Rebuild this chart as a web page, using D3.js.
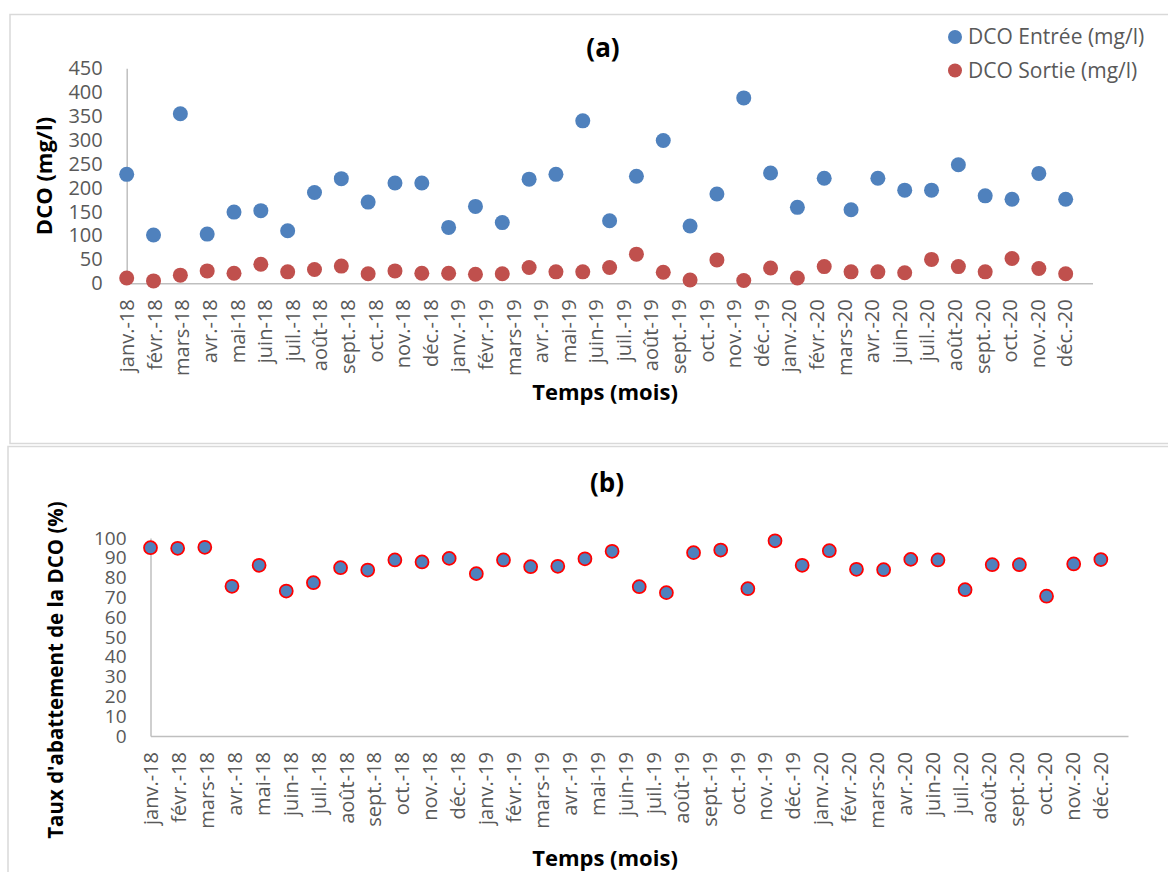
<!DOCTYPE html>
<html>
<head>
<meta charset="utf-8">
<script src="https://cdn.jsdelivr.net/npm/d3@7/dist/d3.min.js"></script>
<style>
body { margin: 0; background: #fff; }
text { font-family: "Open Sans", sans-serif; }
</style>
</head>
<body>
<div id="chart"></div>
<script>
// category labels (35) - the series have 36 values, as in the source figure
var months = ['janv.-18','févr.-18','mars-18','avr.-18','mai-18','juin-18','juil.-18','août-18','sept.-18','oct.-18','nov.-18','déc.-18',
    'janv.-19','févr.-19','mars-19','avr.-19','mai-19','juin-19','juil.-19','août-19','sept.-19','oct.-19','nov.-19','déc.-19',
    'janv.-20','févr.-20','mars-20','avr.-20','juin-20','juil.-20','août-20','sept.-20','oct.-20','nov.-20','déc.-20'];

var dcoEntree = [228, 101, 355, 103, 149, 152, 110, 190, 219, 170, 210, 210,
    117, 161, 127, 218, 228, 340, 131, 224, 299, 120, 187, 388,
    231, 159, 220, 154, 220, 195, 195, 248, 183, 176, 230, 176];

var dcoSortie = [11, 5, 17, 26, 21, 40, 24, 29, 36, 20, 26, 21,
    21, 19, 20, 33, 24, 24, 33, 61, 23, 7, 49, 6,
    32, 11, 35, 24, 24, 22, 50, 35, 24, 52, 31, 20];

var tauxAbattement = [95.1, 94.8, 95.3, 75.6, 86.2, 73.2, 77.4, 85.0, 83.8, 88.9, 87.9, 89.7,
    82.0, 88.9, 85.5, 85.7, 89.5, 93.3, 75.4, 72.4, 92.6, 93.9, 74.4, 98.6,
    86.2, 93.6, 84.2, 84.0, 89.2, 88.9, 73.9, 86.5, 86.5, 70.6, 86.9, 89.1];

var yTicksA = [0, 50, 100, 150, 200, 250, 300, 350, 400, 450];
var yTicksB = [0, 10, 20, 30, 40, 50, 60, 70, 80, 90, 100];

var W = 1168, H = 872;
var svg = d3.select('#chart').append('svg')
    .attr('width', W)
    .attr('height', H);

// panel frames
svg.append('rect')
    .attr('x', 10).attr('y', 14.5)
    .attr('width', 1180).attr('height', 429)
    .attr('fill', 'none').attr('stroke', '#d9d9d9').attr('stroke-width', 1.5);
svg.append('rect')
    .attr('x', 8).attr('y', 446.5)
    .attr('width', 1180).attr('height', 460)
    .attr('fill', 'none').attr('stroke', '#d9d9d9').attr('stroke-width', 1.5);

function drawAxes(g, x, y, yTicks, baseY, labelTop, yFont) {
    var yAxis = g.append('g')
        .attr('transform', 'translate(' + x.range()[0] + ',0)')
        .call(d3.axisLeft(y).tickValues(yTicks).tickSize(0).tickSizeOuter(0).tickPadding(24));
    yAxis.select('.domain').attr('stroke', '#bfbfbf').attr('stroke-width', 1.5);
    yAxis.selectAll('text')
        .attr('fill', '#595959')
        .style('font-size', yFont + 'px')
        .style('font-family', '"Open Sans", sans-serif');

    var xAxis = g.append('g')
        .attr('transform', 'translate(0,' + baseY + ')')
        .call(d3.axisBottom(x).tickValues(d3.range(months.length)).tickSize(0).tickSizeOuter(0)
            .tickFormat(function(i){ return months[i]; }));
    xAxis.select('.domain').attr('stroke', '#bfbfbf').attr('stroke-width', 1.5);
    xAxis.selectAll('text')
        .attr('fill', '#595959')
        .attr('text-anchor', 'end')
        .attr('transform', 'translate(0,' + labelTop + ') rotate(-90)')
        .attr('x', 0).attr('y', 0).attr('dy', '0.35em')
        .style('font-size', '20px')
        .style('font-family', '"Open Sans", sans-serif');
}

function boldText(x, y, str, size, rotate) {
    var t = svg.append('text')
        .attr('text-anchor', 'middle')
        .attr('fill', '#000')
        .attr('font-weight', 'bold')
        .style('font-size', size + 'px');
    if (rotate) {
        t.attr('transform', 'translate(' + x + ',' + y + ') rotate(-90)');
    } else {
        t.attr('x', x).attr('y', y);
    }
    t.text(str);
    return t;
}

// ---------- (a) DCO entrée / sortie ----------
var xa0 = 126.7, xa1 = 1092.5, ya0 = 283.3, ya1 = 68.3;
var xLabA = d3.scaleLinear().domain([0, months.length]).range([xa0, xa1]);
var xPtA = d3.scaleLinear().domain([0, dcoEntree.length]).range([xa0, xa1]);
var yA = d3.scaleLinear().domain([0, 450]).range([ya0, ya1]);

var gA = svg.append('g');
drawAxes(gA, xLabA, yA, yTicksA, ya0, 16, 20);

gA.selectAll('circle.entree')
    .data(dcoEntree)
    .enter()
    .append('circle')
    .attr('class', 'entree')
    .attr('cx', function(d, i){ return xPtA(i); })
    .attr('cy', function(d){ return yA(d); })
    .attr('r', 7.5)
    .attr('fill', '#4f81bd');

gA.selectAll('circle.sortie')
    .data(dcoSortie)
    .enter()
    .append('circle')
    .attr('class', 'sortie')
    .attr('cx', function(d, i){ return xPtA(i); })
    .attr('cy', function(d){ return yA(d); })
    .attr('r', 7.5)
    .attr('fill', '#c0504d');

boldText(603, 57, '(a)', 26);
boldText(605, 400, 'Temps (mois)', 22);
boldText(52, 176, 'DCO (mg/l)', 22, true);

// legend
var legend = svg.append('g');
var legendItems = [
    { label: 'DCO Entrée (mg/l)', color: '#4f81bd' },
    { label: 'DCO Sortie (mg/l)', color: '#c0504d' }
];
legendItems.forEach(function(item, i){
    legend.append('circle')
        .attr('cx', 955).attr('cy', 37 + i * 33.5)
        .attr('r', 7)
        .attr('fill', item.color);
    legend.append('text')
        .attr('x', 968).attr('y', 37 + i * 33.5)
        .attr('dy', '0.35em')
        .attr('fill', '#595959')
        .style('font-size', '21px')
        .text(item.label);
});

// ---------- (b) taux d'abattement ----------
var xb0 = 150.5, xb1 = 1128, yb0 = 736, yb1 = 538;
var xLabB = d3.scaleLinear().domain([0, months.length]).range([xb0, xb1]);
var xPtB = d3.scaleLinear().domain([0, tauxAbattement.length]).range([xb0, xb1]);
var yB = d3.scaleLinear().domain([0, 100]).range([yb0, yb1]);

var gB = svg.append('g');
drawAxes(gB, xLabB, yB, yTicksB, yb0, 16, 19);

gB.selectAll('circle.taux')
    .data(tauxAbattement)
    .enter()
    .append('circle')
    .attr('class', 'taux')
    .attr('cx', function(d, i){ return xPtB(i); })
    .attr('cy', function(d){ return yB(d); })
    .attr('r', 6.5)
    .attr('fill', '#4f81bd')
    .attr('stroke', '#ff0000')
    .attr('stroke-width', 1.75);

boldText(607, 492, '(b)', 26);
boldText(605, 866, 'Temps (mois)', 22);
boldText(63, 670, "Taux d'abattement de la DCO (%)", 20.5, true);
</script>
</body>
</html>
